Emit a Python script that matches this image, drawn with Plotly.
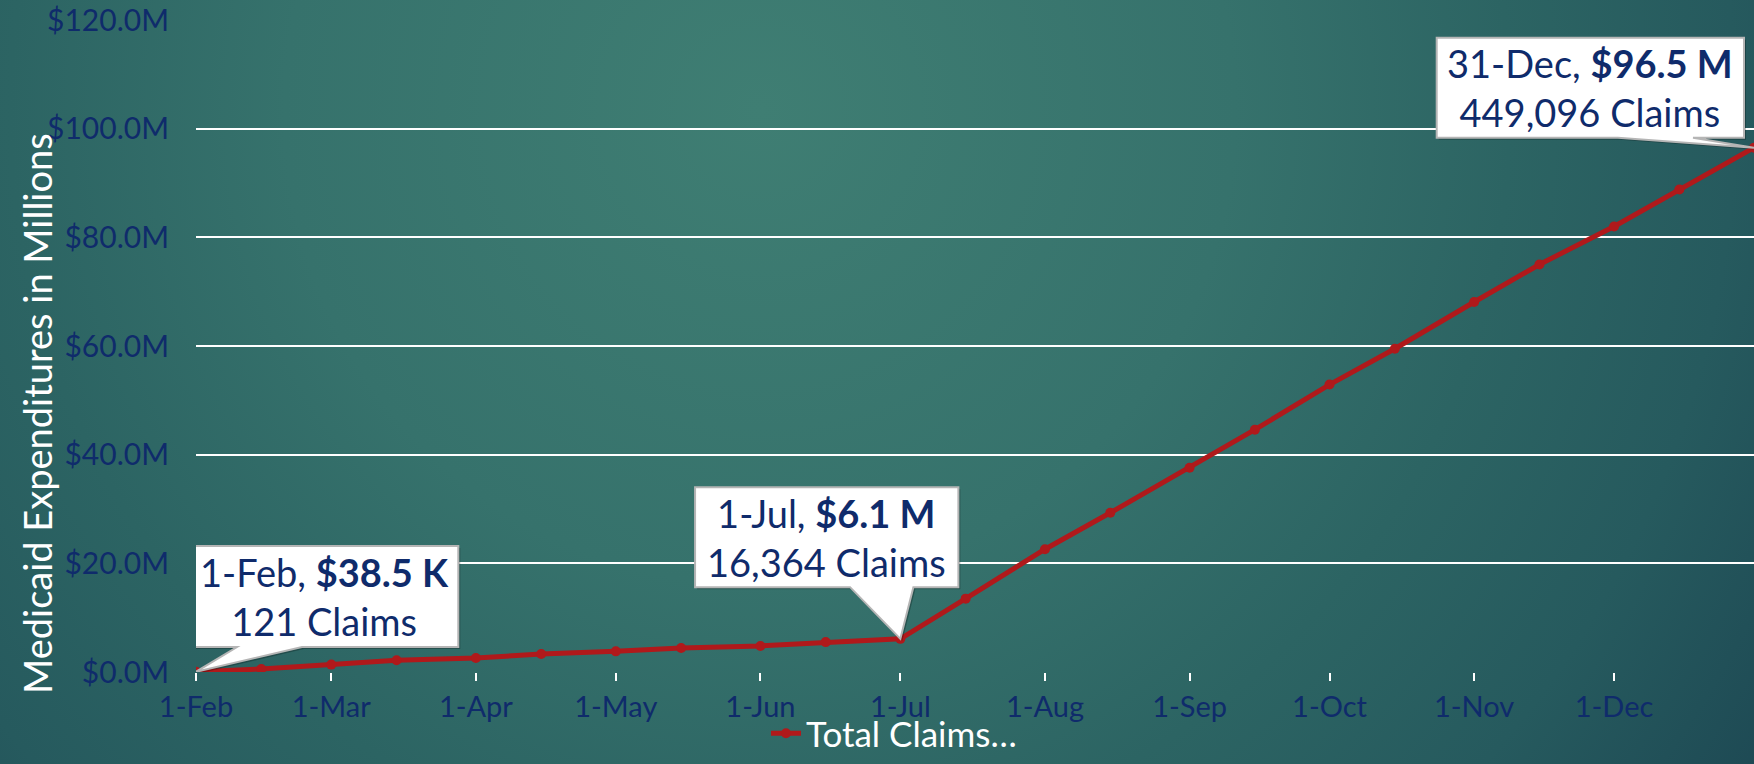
import base64
import plotly.graph_objects as go

# ---------------- data ----------------
dates = ["2020-02-01", "2020-02-15", "2020-03-01", "2020-03-15", "2020-04-01",
         "2020-04-15", "2020-05-01", "2020-05-15", "2020-06-01", "2020-06-15",
         "2020-07-01", "2020-07-15", "2020-08-01", "2020-08-15", "2020-09-01",
         "2020-09-15", "2020-10-01", "2020-10-15", "2020-11-01", "2020-11-15",
         "2020-12-01", "2020-12-15", "2020-12-31"]
expenditures_m = [0.0385, 0.55, 1.36, 2.16, 2.58, 3.32, 3.8, 4.42, 4.8, 5.5,
                  6.1, 13.5, 22.6, 29.3, 37.6, 44.6, 52.9, 59.5, 68.1, 75.0,
                  82.0, 88.8, 96.5]
series_name = "Total Claims\u2026"
y_title = "Medicaid Expenditures in Millions"

callout_dates = ["2020-02-01", "2020-07-01", "2020-12-31"]
callout_values = [0.0385, 6.1, 96.5]
callout_day_labels = ["1-Feb", "1-Jul", "31-Dec"]
callout_amount_labels = ["$38.5 K", "$6.1 M", "$96.5 M"]
callout_claims_labels = ["121 Claims", "16,364 Claims", "449,096 Claims"]

# ---------------- layout geometry (pixels) ----------------
W, H = 1754, 764
ML, MR, MT, MB = 196, 0, 20, 92
PW, PH = W - ML - MR, H - MT - MB

def px_x(x):
    return (x - ML) / PW

def px_y(y):
    return (H - MB - y) / PH

NAVY = "#0f2b6b"
RED = "#b0191b"
FONT = "Lato"

# callout boxes, offsets in px relative to the data point (y up):
# (left, right, bottom, top, wedge_left, wedge_right)
callout_geom = [
    (-5.3, 262.3, 24.8, 125.8, 41, 106),
    (-205.3, 58.0, 51.7, 151.7, -50.3, 13),
    (-317.3, -10.0, 9.9, 109.9, -136, -61),
]

def callout_path(g, dx=0.0, dy=0.0):
    left, right, bottom, top, wl, wr = g
    pts = [(0, 0), (wl, bottom), (left, bottom), (left, top),
           (right, top), (right, bottom), (wr, bottom)]
    return "M " + " L ".join(f"{x + dx:.1f},{y + dy:.1f}" for x, y in pts) + " Z"

# ---------------- background gradient ----------------
svg = (
    f'<svg xmlns="http://www.w3.org/2000/svg" width="{W}" height="{H}" '
    f'viewBox="0 0 {W} {H}" preserveAspectRatio="none">'
    '<defs><radialGradient id="g" gradientUnits="userSpaceOnUse" cx="760" cy="110" r="1250">'
    '<stop offset="0" stop-color="#3f7e73"/>'
    '<stop offset="0.38" stop-color="#36726c"/>'
    '<stop offset="0.6" stop-color="#2c6463"/>'
    '<stop offset="0.78" stop-color="#265a5e"/>'
    '<stop offset="1" stop-color="#1c4652"/>'
    '</radialGradient></defs>'
    f'<rect width="{W}" height="{H}" fill="url(#g)"/></svg>'
)
bg_src = "data:image/svg+xml;base64," + base64.b64encode(svg.encode()).decode()

fig = go.Figure()
fig.add_trace(go.Scatter(
    x=dates, y=expenditures_m, name=series_name, mode="lines+markers",
    line=dict(color=RED, width=5), marker=dict(color=RED, size=10),
    showlegend=True,
))

shapes = []
annotations = []
for d, v, g, day, amt, cl in zip(callout_dates, callout_values, callout_geom,
                                  callout_day_labels, callout_amount_labels,
                                  callout_claims_labels):
    common = dict(type="path", xref="x", yref="y", xsizemode="pixel",
                  ysizemode="pixel", xanchor=d, yanchor=v, layer="above")
    shapes.append(dict(common, path=callout_path(g, 2, -2),
                       fillcolor="rgba(0,0,0,0.25)", line=dict(width=0)))
    shapes.append(dict(common, path=callout_path(g),
                       fillcolor="white", line=dict(color="#b5b5b5", width=2)))
    left, right, bottom, top = g[0], g[1], g[2], g[3]
    annotations.append(dict(
        x=d, y=v, xref="x", yref="y", showarrow=False,
        xshift=(left + right) / 2, yshift=(bottom + top) / 2,
        xanchor="center", yanchor="middle", align="center",
        text=f"{day}, <b>{amt}</b><br>{cl}",
        font=dict(family=FONT, size=38, color=NAVY),
    ))

annotations.append(dict(
    x=px_x(37), y=px_y(414), xref="paper", yref="paper", showarrow=False,
    text=y_title, textangle=-90, xanchor="center", yanchor="middle",
    font=dict(family=FONT, size=38, color="white"),
))

fig.update_layout(
    width=W, height=H,
    margin=dict(l=ML, r=MR, t=MT, b=MB, pad=0),
    paper_bgcolor="#2b5f60",
    plot_bgcolor="rgba(0,0,0,0)",
    images=[dict(source=bg_src, xref="paper", yref="paper",
                 x=px_x(0), y=px_y(0), sizex=W / PW, sizey=H / PH,
                 xanchor="left", yanchor="top", sizing="stretch", layer="below")],
    shapes=shapes,
    annotations=annotations,
    showlegend=True,
    legend=dict(orientation="h", x=px_x(766), y=px_y(H - 1), xanchor="left",
                yanchor="bottom", bgcolor="rgba(0,0,0,0)", borderwidth=0,
                font=dict(family=FONT, size=35, color="white")),
    xaxis=dict(
        type="date", range=["2020-02-01", "2020-12-31"],
        tick0="2020-02-01", dtick="M1", tickformat="%-d-%b",
        ticks="outside", ticklen=8, tickwidth=2, tickcolor="white",
        showgrid=False, showline=False, zeroline=False,
        tickfont=dict(family=FONT, size=29, color=NAVY),
        ticklabelstandoff=1,
    ),
    yaxis=dict(
        range=[0, 120], dtick=20, tickprefix="$", ticksuffix="M",
        tickformat=".1f", showgrid=True, gridcolor="white", gridwidth=2,
        showline=False, zeroline=False, ticks="",
        tickfont=dict(family=FONT, size=30, color=NAVY),
        ticklabelstandoff=26,
    ),
)

fig.write_html("out.html",
               config={"displayModeBar": False},
               post_script="document.body.style.margin='0px';document.body.style.overflow='hidden';")
